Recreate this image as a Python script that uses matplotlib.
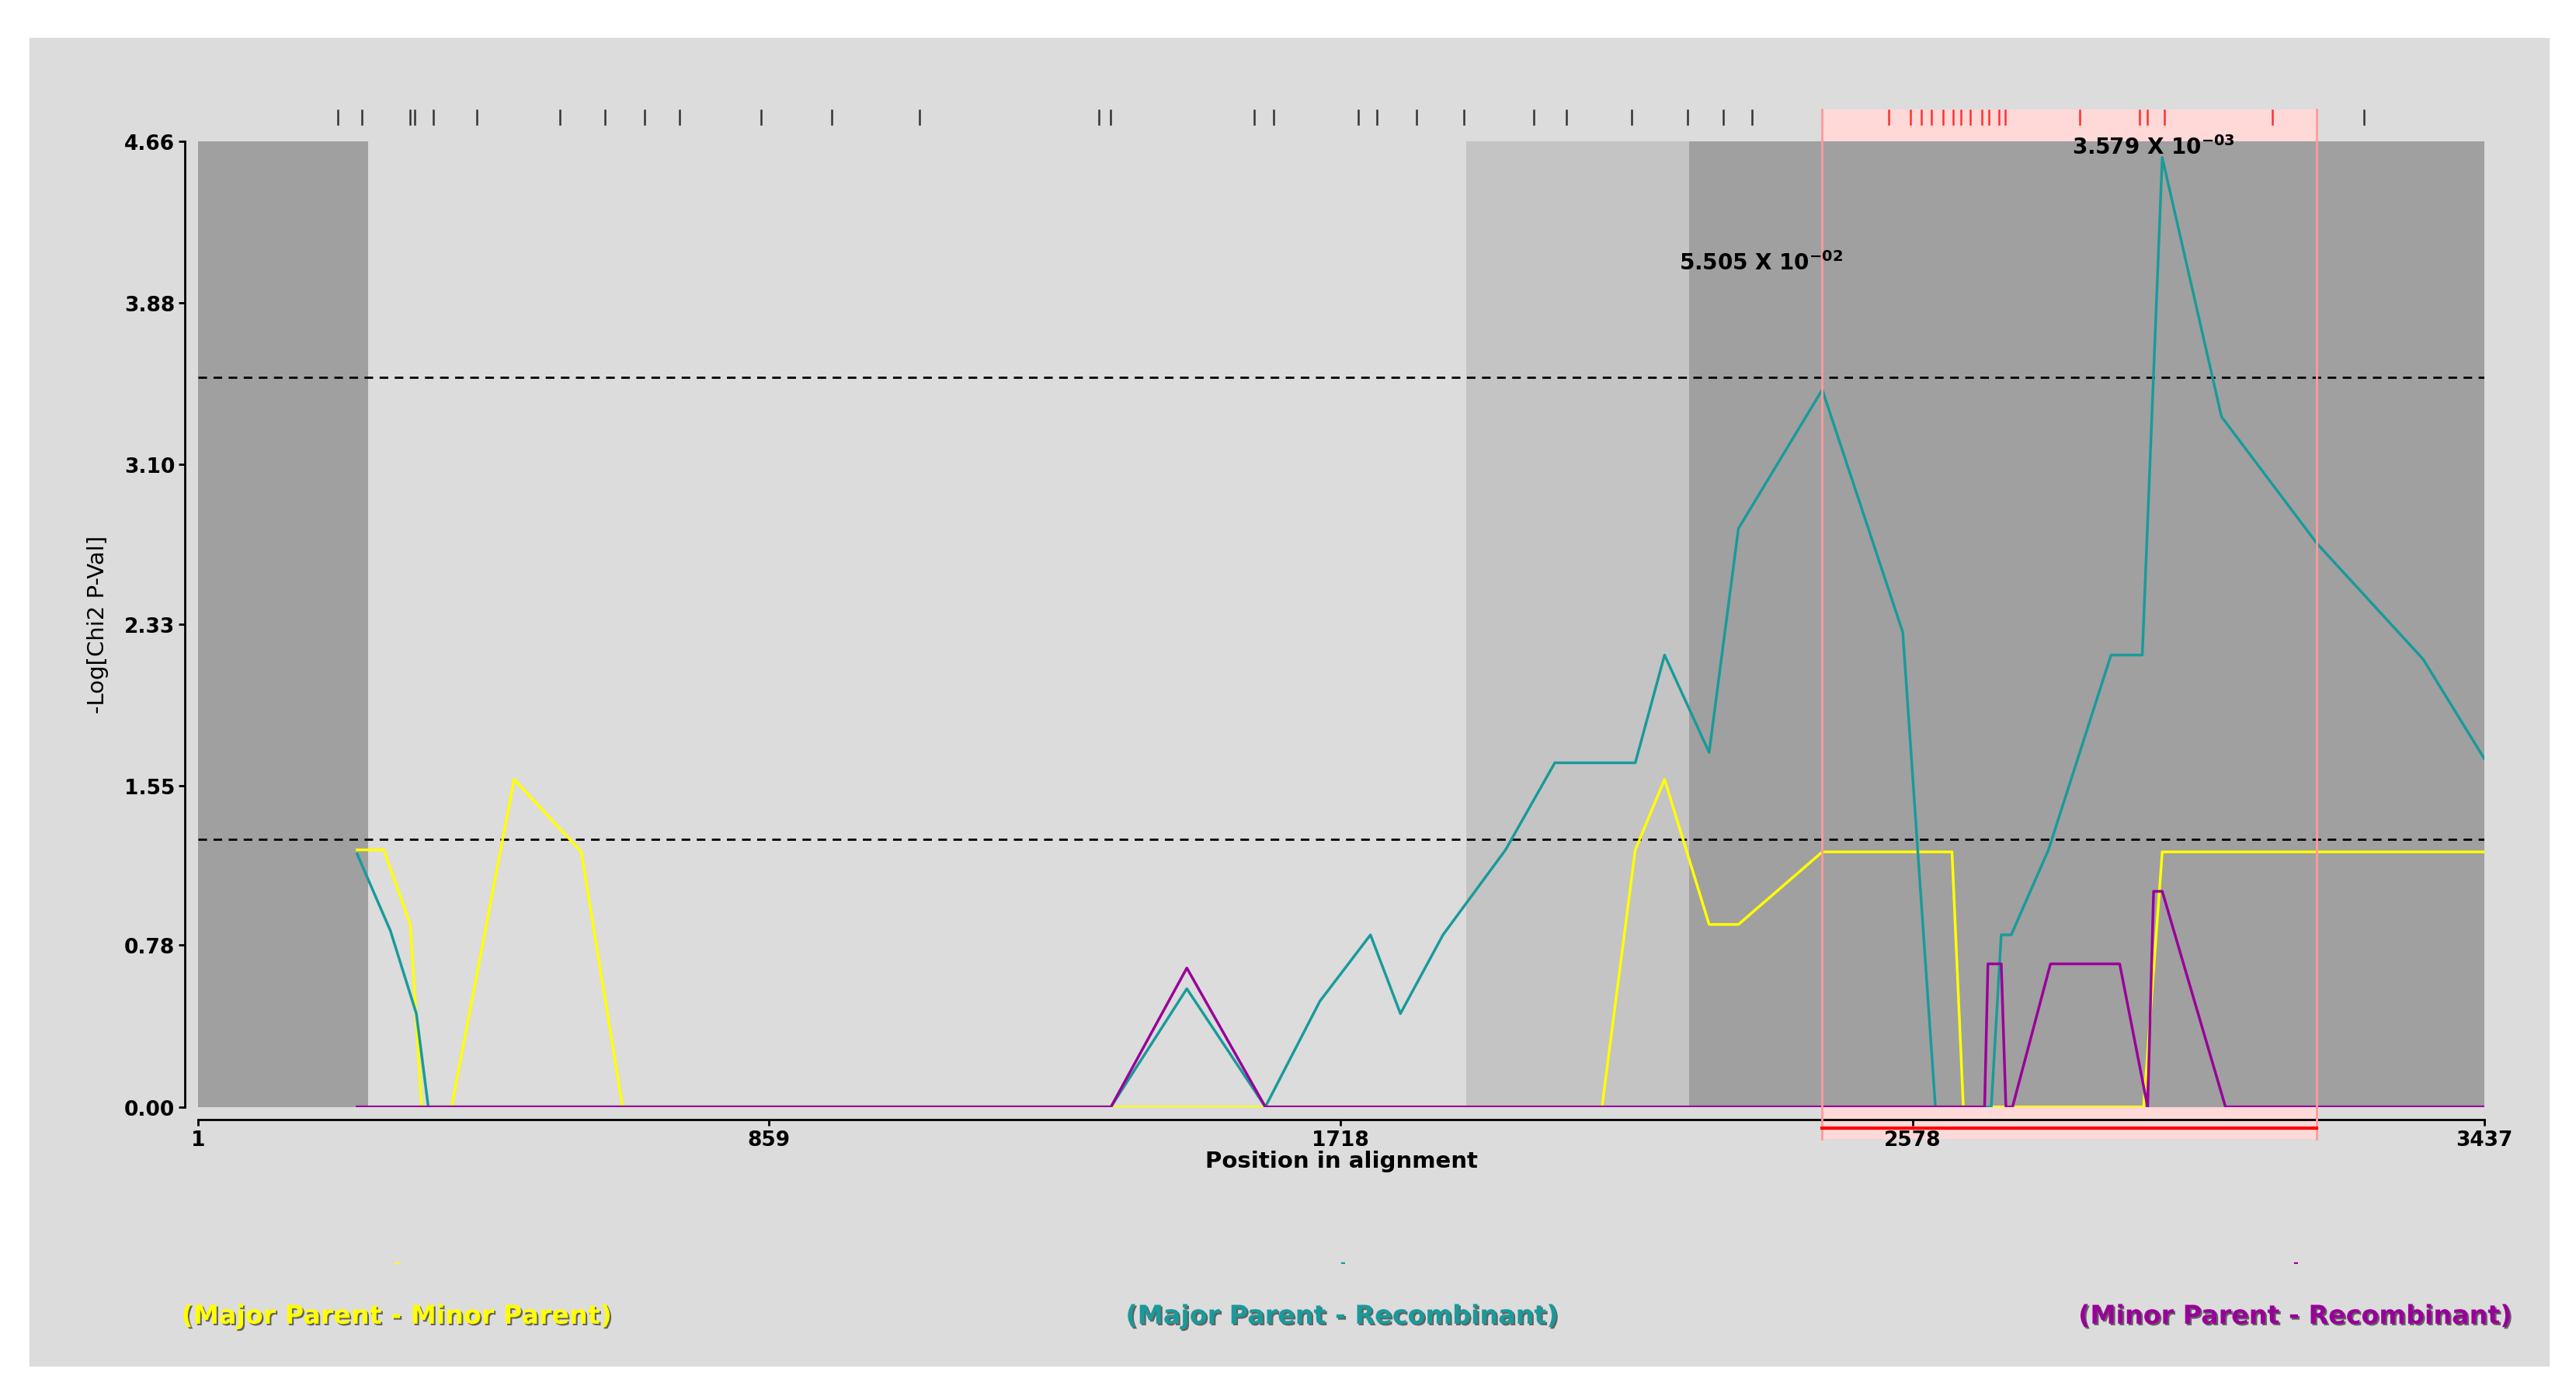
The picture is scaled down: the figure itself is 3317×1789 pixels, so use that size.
import matplotlib
matplotlib.use('Agg')
import matplotlib.pyplot as plt
import matplotlib.patheffects as pe
from matplotlib.patches import Rectangle
from matplotlib.transforms import blended_transform_factory

# data
teal_x = [240, 290, 329, 347, 1373, 1487, 1605, 1687, 1763, 1808, 1872, 1966, 2040, 2161, 2205,
          2272, 2316, 2442, 2563, 2612, 2696, 2711, 2726, 2782, 2876, 2923, 2953, 3042, 3185, 3345, 3437]
teal_y = [1.22, 0.85, 0.45, 0.0, 0.0, 0.57, 0.0, 0.51, 0.83, 0.45, 0.83, 1.24, 1.66, 1.66, 2.18,
          1.71, 2.79, 3.46, 2.29, 0.0, 0.0, 0.83, 0.83, 1.24, 2.18, 2.18, 4.58, 3.33, 2.72, 2.16, 1.68]
yellow_x = [240, 280, 320, 337, 382, 476, 577, 639, 2111, 2161, 2205, 2272, 2316, 2442, 2637, 2654,
            2925, 2953, 3437]
yellow_y = [1.24, 1.24, 0.88, 0.0, 0.0, 1.58, 1.23, 0.0, 0.0, 1.24, 1.58, 0.88, 0.88, 1.23, 1.23,
            0.0, 0.0, 1.23, 1.23]
purple_x = [240, 1373, 1487, 1605, 2686, 2691, 2711, 2718, 2728, 2785, 2889, 2931, 2940, 2953, 3048, 3437]
purple_y = [0.0, 0.0, 0.67, 0.0, 0.0, 0.69, 0.69, 0.0, 0.0, 0.69, 0.69, 0.0, 1.04, 1.04, 0.0, 0.0]

sites_black = [211, 247, 319, 327, 355, 420, 545, 612, 672, 724, 847, 953, 1085, 1355, 1372, 1588,
               1618, 1745, 1773, 1832, 1903, 2009, 2058, 2155, 2240, 2293, 2337, 3256]
sites_red = [2542, 2574, 2591, 2606, 2624, 2639, 2650, 2665, 2682, 2693, 2708, 2717, 2829, 2919,
             2930, 2956, 3118]

y_ticks = [0.00, 0.78, 1.55, 2.33, 3.10, 3.88, 4.66]
x_ticks = [1, 859, 1718, 2578, 3437]
thresholds = [3.52, 1.29]
shade_bands = [(1, 256, '#a0a0a0'), (256, 1907, '#dcdcdc'), (1907, 2242, '#c4c4c4'), (2242, 3437, '#a0a0a0')]
region = (2442, 3185)

fig = plt.figure(figsize=(33.17, 17.90), dpi=100)
fig.patches.append(Rectangle((0.0115, 0.017), 0.978, 0.955, transform=fig.transFigure,
                             color='#dcdcdc', zorder=-10))
ax = fig.add_axes([0.0769, 0.203, 0.8875, 0.695])
ax.set_facecolor('none')
ax.set_xlim(1, 3437)
ax.set_ylim(0, 4.66)

for a, b, c in shade_bands:
    ax.axvspan(a, b, color=c, zorder=0, lw=0)

for t in thresholds:
    ax.axhline(t, color='black', ls=(0, (4, 3)), lw=2, zorder=2)

ax.plot(yellow_x, yellow_y, color='#ffff00', lw=2.5, zorder=3)
ax.plot(teal_x, teal_y, color='#1a9a9a', lw=2.5, zorder=4)
ax.plot(purple_x, purple_y, color='#990099', lw=2.5, zorder=5)

# recombination region: pink fill shows only outside the shaded plot area
trans = blended_transform_factory(ax.transData, ax.transAxes)
ax.add_patch(Rectangle((region[0], -0.033), region[1] - region[0], 1.066, transform=trans,
                       facecolor='#ffd8d8', edgecolor='none', clip_on=False, zorder=-1))
for xv in region:
    ax.plot([xv, xv], [-0.033, 1.033], transform=trans, color='#ff9a9a', lw=2,
            clip_on=False, zorder=6)
ax.plot([region[0], region[1]], [-0.022, -0.022], transform=trans, color='red', lw=3,
        clip_on=False, zorder=7)
for s in sites_black:
    ax.plot([s, s], [1.017, 1.032], transform=trans, color='#333333', lw=1.8, clip_on=False)
for s in sites_red:
    ax.plot([s, s], [1.017, 1.032], transform=trans, color='#ff3030', lw=1.8, clip_on=False)

ax.text(2350, 4.04, r'5.505 X 10$^{\mathbf{-02}}$', fontsize=20, fontweight='bold', ha='center', zorder=8)
ax.text(2940, 4.6, r'3.579 X 10$^{\mathbf{-03}}$', fontsize=20, fontweight='bold', ha='center', zorder=8)

for side in ['top', 'right']:
    ax.spines[side].set_visible(False)
ax.spines['left'].set_position(('outward', 12))
ax.spines['bottom'].set_position(('outward', 12))
ax.spines['left'].set_linewidth(2)
ax.spines['bottom'].set_linewidth(2)
ax.set_yticks(y_ticks)
ax.set_yticklabels([f'{v:.2f}' for v in y_ticks], fontweight='bold', fontsize=19)
ax.set_xticks(x_ticks)
ax.set_xticklabels([str(v) for v in x_ticks], fontweight='bold', fontsize=19)
ax.tick_params(length=6, width=2)
ax.set_xlabel('Position in alignment', fontsize=21, fontweight='bold', labelpad=0)
ax.set_ylabel('-Log[Chi2 P-Val]', fontsize=21, labelpad=14)

shadow = [pe.withSimplePatchShadow(offset=(1.5, -1.5), shadow_rgbFace='#555555', alpha=0.9)]
legend_items = [(0.154, '(Major Parent - Minor Parent)', '#ffff00'),
                (0.521, '(Major Parent - Recombinant)', '#1a9a9a'),
                (0.891, '(Minor Parent - Recombinant)', '#990099')]
for x, txt, c in legend_items:
    fig.text(x, 0.047, txt, color=c, fontsize=24, fontweight='bold', ha='center',
             path_effects=shadow)
    fig.text(x, 0.088, '-', color=c, fontsize=12, fontweight='bold', ha='center')

fig.savefig('out.png', dpi=100)
